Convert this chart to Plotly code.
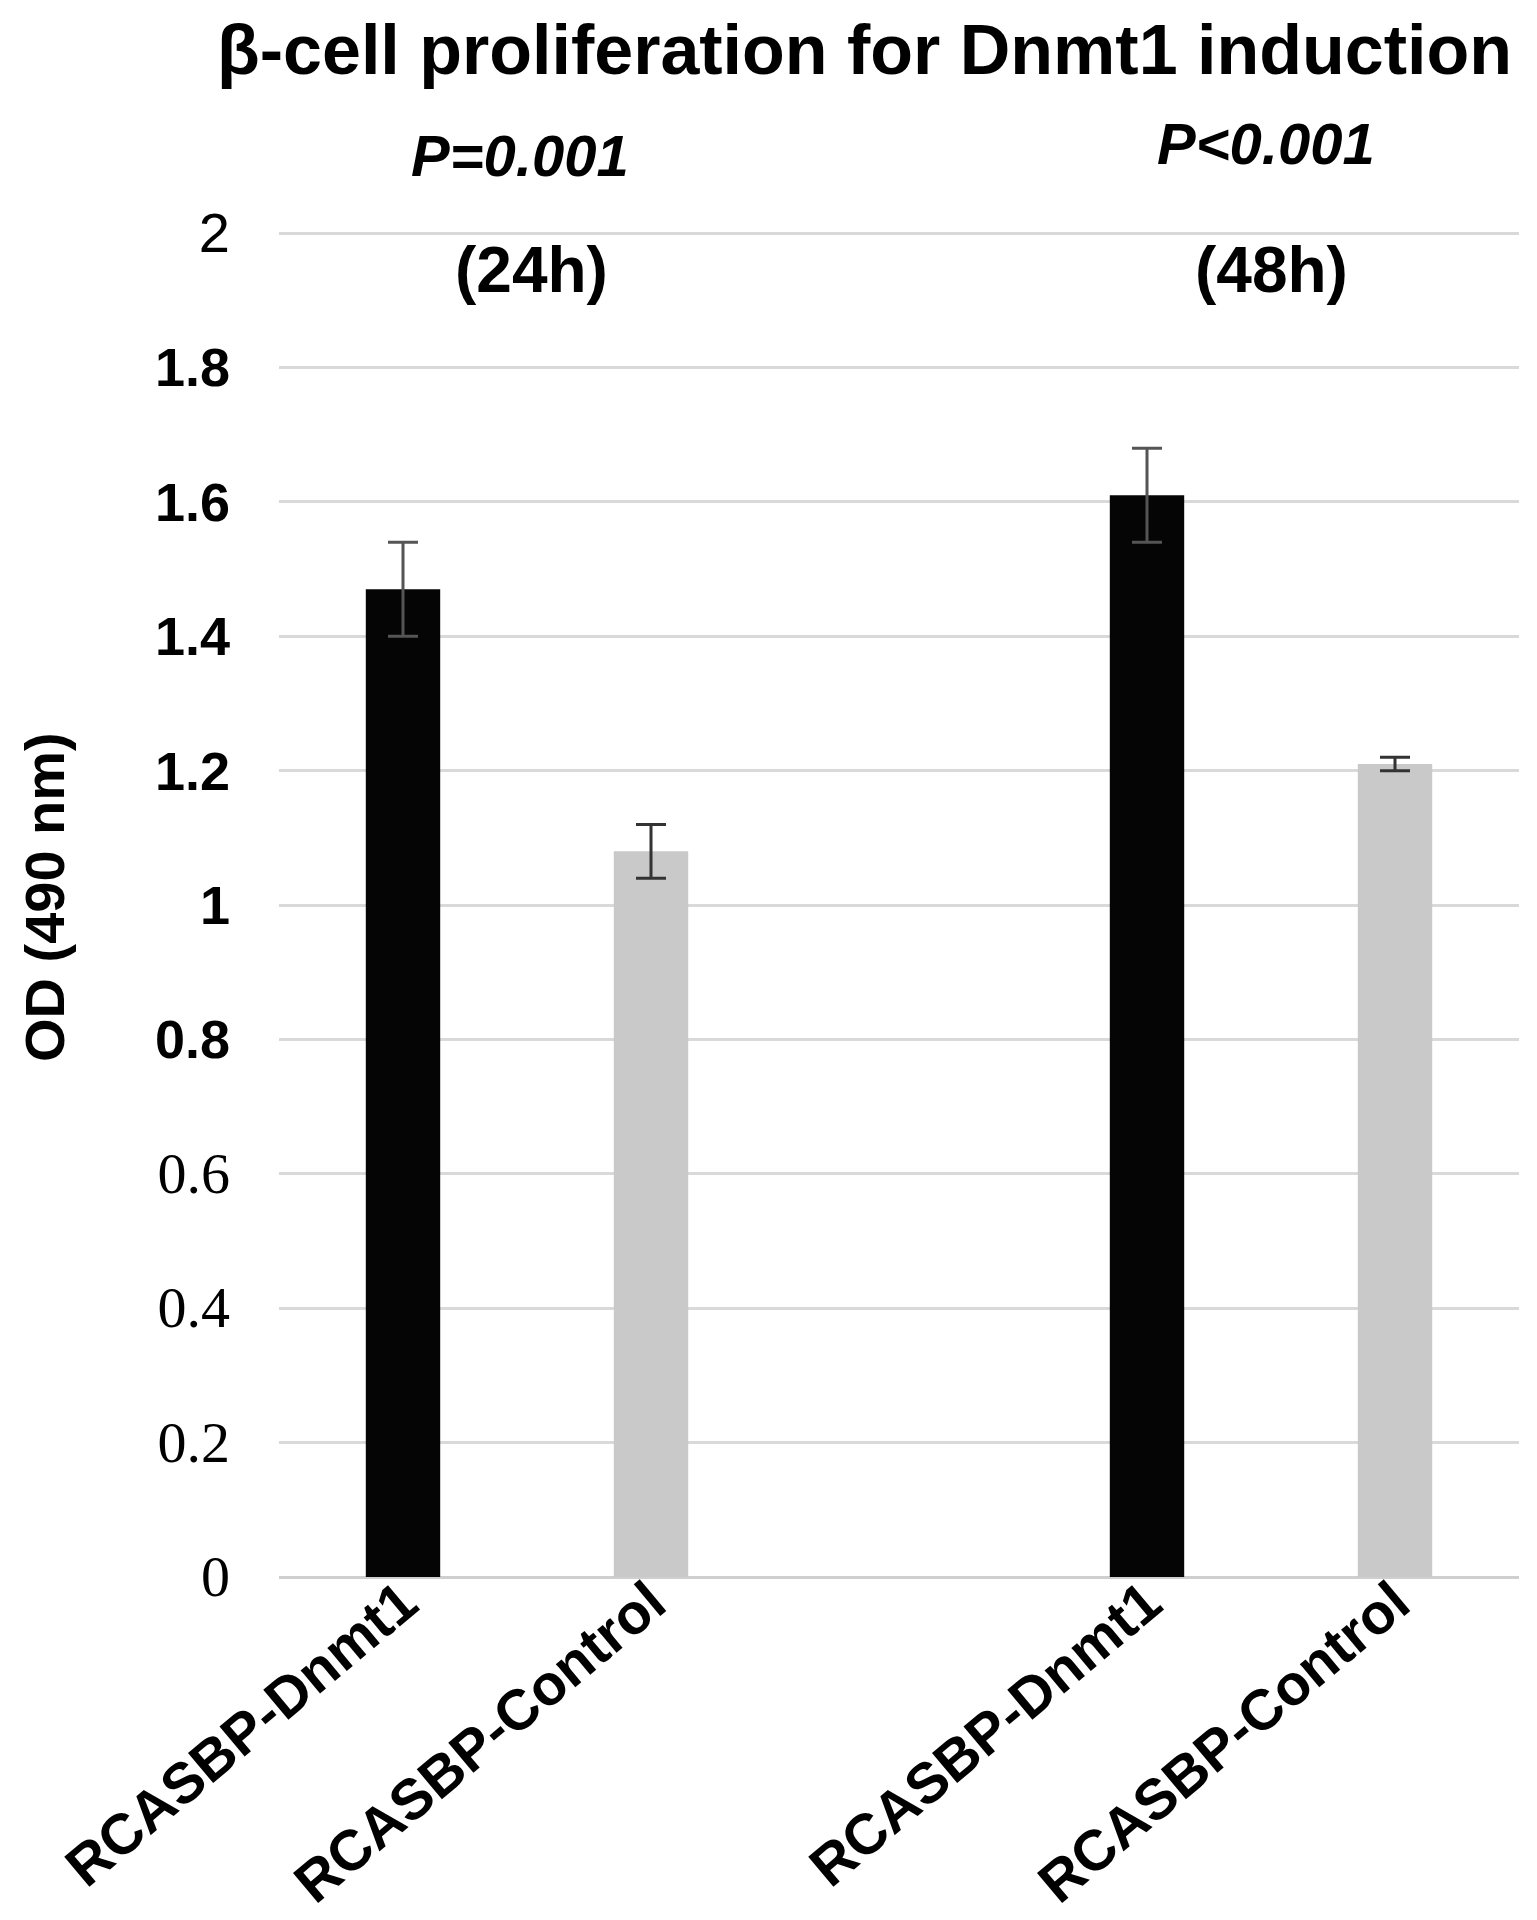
import plotly.graph_objects as go

# ---- data ----
x_dnmt1 = [0, 3]
x_control = [1, 4]
dnmt1_values = [1.47, 1.61]
dnmt1_errors = [0.07, 0.07]
control_values = [1.08, 1.21]
control_errors = [0.04, 0.01]

x_tick_vals = [0, 1, 3, 4]
x_tick_labels = ["RCASBP-Dnmt1", "RCASBP-Control", "RCASBP-Dnmt1", "RCASBP-Control"]

y_tick_vals = [0, 0.2, 0.4, 0.6, 0.8, 1, 1.2, 1.4, 1.6, 1.8, 2]
y_tick_labels = ["0", "0.2", "0.4", "0.6", "0.8", "1", "1.2", "1.4", "1.6", "1.8", "2"]

group_centers = [0.5, 3.5]
p_labels = ["P=0.001", "P<0.001"]
time_labels = ["(24h)", "(48h)"]

title_text = "β-cell proliferation for Dnmt1 induction"
y_title = "OD (490 nm)"

# ---- styling of tick labels (mixed fonts as in the original) ----
def style_ytick(v, t):
    if v < 0.7:
        return f"<span style='font-family:Liberation Serif;font-size:58px'>{t}</span>"
    if v > 1.9:
        return f"<span style='font-size:56px'>{t}</span>"
    return f"<b>{t}</b>"

y_tick_text = [style_ytick(v, t) for v, t in zip(y_tick_vals, y_tick_labels)]
x_tick_text = [f"<b>{t}</b>" for t in x_tick_labels]

fig = go.Figure()
fig.add_trace(go.Bar(
    x=x_dnmt1, y=dnmt1_values, width=0.3,
    marker=dict(color="#050505", line=dict(width=0)),
    error_y=dict(type="data", array=dnmt1_errors, color="#555555", thickness=3, width=15),
    showlegend=False,
))
fig.add_trace(go.Bar(
    x=x_control, y=control_values, width=0.3,
    marker=dict(color="#c9c9c9", line=dict(width=0)),
    error_y=dict(type="data", array=control_errors, color="#333333", thickness=3, width=15),
    showlegend=False,
))

# page has an 8px body margin; figure coords = page coords - 8
OFF = 8
W, H = 1537 - OFF, 1920 - OFF
L, R, B = 271, 18, 343
plot_bottom = H - B          # fig y of value 0
px_per_unit = 672
y_top_val = 2.03
T = plot_bottom - y_top_val * px_per_unit
ph = plot_bottom - T
pw = W - L - R

def ypaper(py_page):
    return (plot_bottom - (py_page - OFF)) / ph

def xpaper(px_page):
    return (px_page - OFF - L) / pw

annotations = []
annotations.append(dict(text=f"<b>{title_text}</b>", x=xpaper(864), y=ypaper(50),
                        xref="paper", yref="paper", showarrow=False, xanchor="center", yanchor="middle",
                        font=dict(size=70, color="#000000")))
for gx, p, t, py_p, dx_p, dx_t in zip(group_centers, p_labels, time_labels, [155, 143], [-0.03, -0.02], [0.02, 0.0]):
    annotations.append(dict(text=f"<b><i>{p}</i></b>", x=gx + dx_p, y=ypaper(py_p), xref="x", yref="paper",
                            showarrow=False, xanchor="center", yanchor="middle",
                            font=dict(size=58, color="#000000")))
    annotations.append(dict(text=f"<b>{t}</b>", x=gx + dx_t, y=ypaper(270), xref="x", yref="paper",
                            showarrow=False, xanchor="center", yanchor="middle",
                            font=dict(size=64, color="#000000")))
annotations.append(dict(text=f"<b>{y_title}</b>", x=xpaper(44), y=ypaper(897),
                        xref="paper", yref="paper", showarrow=False, textangle=-90,
                        xanchor="center", yanchor="middle", font=dict(size=56, color="#000000")))

fig.update_layout(
    width=W, height=H,
    margin=dict(l=L, r=R, t=T, b=B, autoexpand=False),
    paper_bgcolor="white", plot_bgcolor="white",
    barmode="overlay",
    font=dict(family="Liberation Sans, Arial, sans-serif", color="#000000"),
    annotations=annotations,
    xaxis=dict(
        range=[-0.5, 4.5], tickmode="array", tickvals=x_tick_vals, ticktext=x_tick_text,
        tickangle=-40, tickfont=dict(size=57, color="#000000"), showgrid=False,
        showline=False, zeroline=False, ticks="",
        anchor="free", position=20 / ph,
    ),
    yaxis=dict(
        range=[0, y_top_val], tickmode="array", tickvals=y_tick_vals, ticktext=y_tick_text,
        tickfont=dict(size=54, color="#000000"), showgrid=True, gridcolor="#d9d9d9", gridwidth=2.5,
        zeroline=True, zerolinecolor="#cfcfcf", zerolinewidth=3, showline=False,
        ticks="", ticklabelstandoff=48,
    ),
)

fig.write_html("out.html")
